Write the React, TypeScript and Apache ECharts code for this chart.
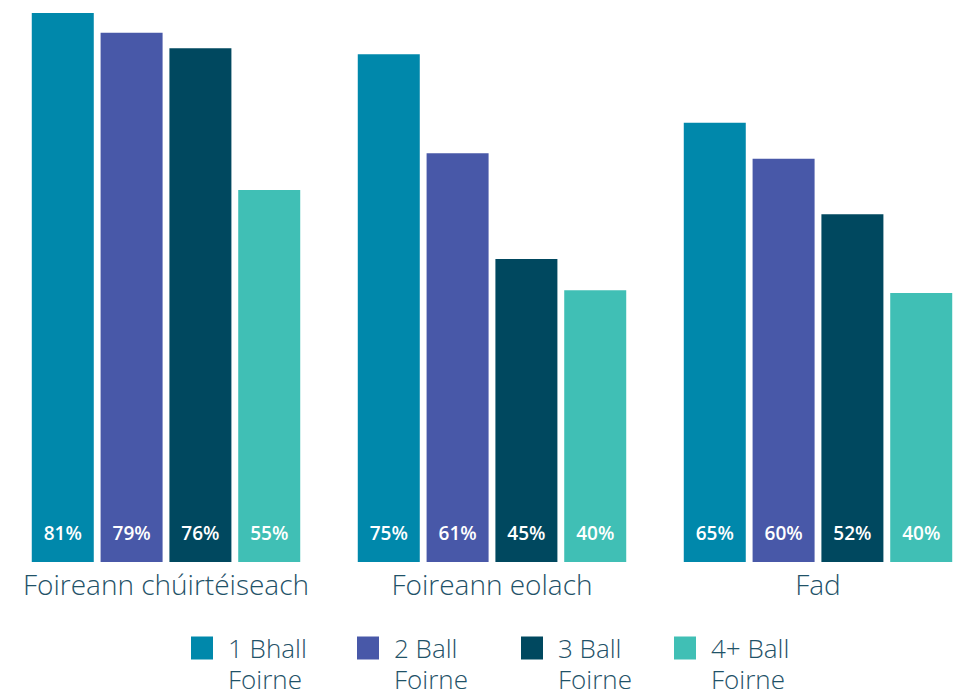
import React, { useEffect, useRef } from "react";
import * as echarts from "echarts";

const categories = ["Foireann chúirtéiseach", "Foireann eolach", "Fad"];
const seriesNames = ["1 Bhall\nFoirne", "2 Ball\nFoirne", "3 Ball\nFoirne", "4+ Ball\nFoirne"];
// bar heights as drawn (percent)
const oneMember = [81, 74.9, 64.8];
const twoMembers = [78.1, 60.3, 59.5];
const threeMembers = [75.8, 44.7, 51.3];
const fourPlusMembers = [54.9, 40.1, 39.7];
// printed value labels
const oneMemberLabels = ["81%", "75%", "65%"];
const twoMembersLabels = ["79%", "61%", "60%"];
const threeMembersLabels = ["76%", "45%", "52%"];
const fourPlusMembersLabels = ["55%", "40%", "40%"];
const colors = ["#0088AB", "#4858A8", "#00485F", "#40BFB5"];
const legendLefts = [191, 357, 521, 674];

const FONT = "'Open Sans', sans-serif";
const TEXT_COLOR = "#1F5268";

export default function App() {
  const ref = useRef<HTMLDivElement>(null);
  useEffect(() => {
    document.body.style.margin = "0";
    const chart = echarts.init(ref.current!, null, { renderer: "svg" });
    const values = [oneMember, twoMembers, threeMembers, fourPlusMembers];
    const labels = [oneMemberLabels, twoMembersLabels, threeMembersLabels, fourPlusMembersLabels];
    chart.setOption({
      animation: false,
      textStyle: { fontFamily: FONT },
      grid: { left: 3, width: 978, top: 13, bottom: 130, outerBoundsMode: "none", containLabel: false },
      xAxis: {
        type: "category",
        data: categories,
        axisLine: { show: false },
        axisTick: { show: false },
        axisLabel: {
          interval: 0,
          fontSize: 28,
          color: TEXT_COLOR,
          margin: 8,
          fontFamily: FONT,
          fontWeight: 300,
        },
      },
      yAxis: { type: "value", min: 0, max: 81, show: false },
      legend: seriesNames.map((n, i) => ({
        data: [n],
        left: legendLefts[i],
        top: 635,
        padding: 0,
        orient: "horizontal",
        itemWidth: 22,
        itemHeight: 23,
        icon: "rect",
        selectedMode: false,
        formatter: (name: string) =>
          name
            .split("\n")
            .map((s) => `{t|${s}}`)
            .join("\n"),
        textStyle: {
          color: TEXT_COLOR,
          fontFamily: FONT,
          padding: [31, 0, 0, 10],
          rich: {
            t: {
              fontSize: 26,
              lineHeight: 31,
              color: TEXT_COLOR,
              fontFamily: FONT,
              fontWeight: 300,
            },
          },
        },
      })),
      series: seriesNames.map((n, i) => ({
        name: n,
        type: "bar",
        data: values[i],
        barWidth: 62,
        barGap: "11%",
        itemStyle: { color: colors[i] },
        label: {
          show: true,
          position: "insideBottom",
          distance: 20,
          formatter: (p: any) => labels[i][p.dataIndex],
          color: "#ffffff",
          fontSize: 19,
          fontWeight: 600,
          fontFamily: FONT,
        },
      })),
    });
    return () => chart.dispose();
  }, []);
  return <div ref={ref} style={{ width: 960, height: 692 }} />;
}
